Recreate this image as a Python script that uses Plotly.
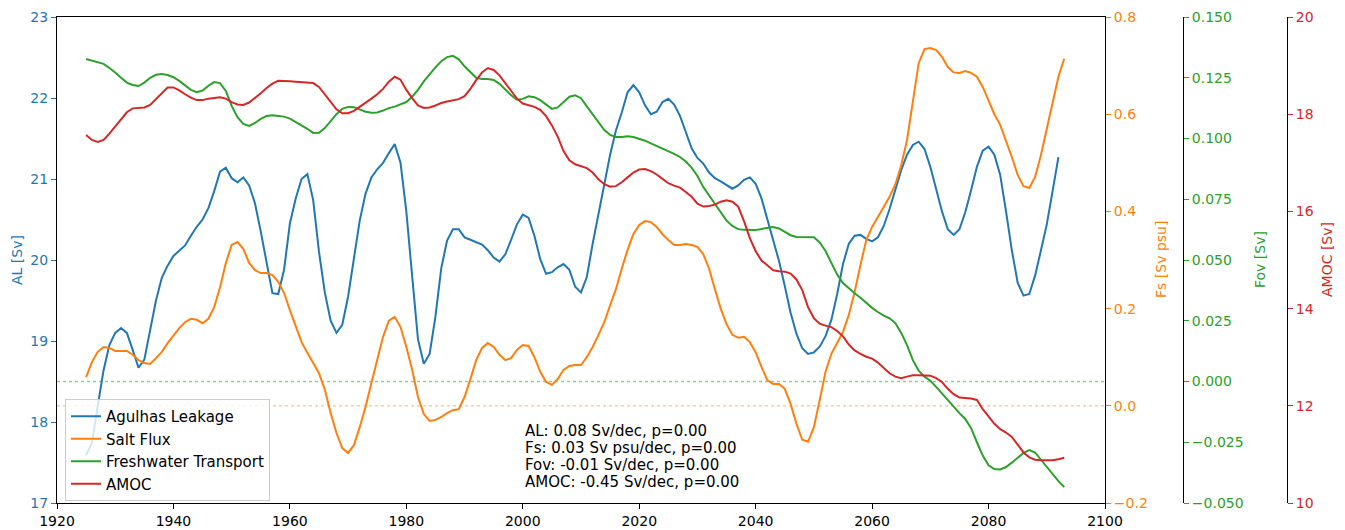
import plotly.graph_objects as go

# Annual series (smoothed), 1925 onwards
al_values = [
    17.59, 17.74, 18.2, 18.64, 18.95, 19.10, 19.16, 19.10, 18.89, 18.67,
    18.77, 19.14, 19.5, 19.78, 19.93, 20.05, 20.12, 20.18, 20.3, 20.41,
    20.5, 20.64, 20.85, 21.09, 21.14, 21.01, 20.96, 21.02, 20.92, 20.7,
    20.35, 19.95, 19.59, 19.58, 19.88, 20.45, 20.76, 21.0, 21.06, 20.74,
    20.1, 19.6, 19.25, 19.1, 19.2, 19.55, 20.0, 20.49, 20.82, 21.02,
    21.12, 21.2, 21.32, 21.43, 21.2, 20.6, 19.8, 19.02, 18.72, 18.84,
    19.3, 19.9, 20.24, 20.38, 20.38, 20.28, 20.25, 20.22, 20.19, 20.12,
    20.03, 19.98, 20.07, 20.25, 20.44, 20.56, 20.52, 20.3, 20.01, 19.83,
    19.85, 19.91, 19.95, 19.88, 19.67, 19.6, 19.79, 20.2, 20.58, 20.95,
    21.3, 21.6, 21.82, 22.07, 22.16, 22.07, 21.91, 21.8, 21.83, 21.95,
    21.99, 21.92, 21.78, 21.58, 21.38, 21.26, 21.19, 21.08, 21.01, 20.97,
    20.93, 20.88, 20.92, 20.99, 21.02, 20.94, 20.76, 20.5, 20.25, 19.99,
    19.68, 19.35, 19.09, 18.91, 18.84, 18.86, 18.93, 19.06, 19.26, 19.58,
    19.95, 20.2, 20.3, 20.31, 20.26, 20.23, 20.28, 20.42, 20.63, 20.87,
    21.11, 21.3, 21.42, 21.46, 21.37, 21.15, 20.86, 20.6, 20.38, 20.31,
    20.38, 20.59, 20.86, 21.15, 21.35, 21.4, 21.3, 21.05, 20.6, 20.12,
    19.72, 19.56, 19.58, 19.81, 20.12, 20.44, 20.85, 21.27,
]

fs_values = [
    0.059, 0.09, 0.111, 0.121, 0.119, 0.113, 0.113, 0.113, 0.105, 0.094,
    0.088, 0.086, 0.098, 0.111, 0.129, 0.144, 0.16, 0.172, 0.179, 0.177,
    0.17, 0.179, 0.203, 0.244, 0.294, 0.331, 0.337, 0.323, 0.294, 0.279,
    0.273, 0.273, 0.269, 0.255, 0.232, 0.197, 0.162, 0.131, 0.109, 0.088,
    0.067, 0.033, -0.015, -0.056, -0.087, -0.097, -0.081, -0.044, -0.002, 0.047,
    0.094, 0.142, 0.175, 0.183, 0.162, 0.121, 0.074, 0.018, -0.017, -0.031,
    -0.029, -0.023, -0.015, -0.009, -0.007, 0.018, 0.055, 0.094, 0.119, 0.129,
    0.121, 0.105, 0.094, 0.098, 0.115, 0.125, 0.123, 0.1, 0.07, 0.049,
    0.043, 0.055, 0.074, 0.082, 0.084, 0.084, 0.1, 0.121, 0.146, 0.172,
    0.207, 0.24, 0.282, 0.321, 0.353, 0.372, 0.38, 0.378, 0.368, 0.353,
    0.341, 0.331, 0.331, 0.333, 0.331, 0.327, 0.312, 0.282, 0.24, 0.2,
    0.168, 0.146, 0.14, 0.142, 0.131, 0.11, 0.08, 0.053, 0.045, 0.045,
    0.035, 0.004, -0.037, -0.07, -0.074, -0.044, 0.012, 0.07, 0.107, 0.131,
    0.152, 0.187, 0.234, 0.29, 0.341, 0.368, 0.388, 0.409, 0.43, 0.456,
    0.495, 0.547, 0.625, 0.705, 0.734, 0.736, 0.732, 0.718, 0.697, 0.686,
    0.685, 0.689, 0.685, 0.677, 0.656, 0.628, 0.6, 0.578, 0.547, 0.512,
    0.475, 0.452, 0.448, 0.471, 0.516, 0.57, 0.627, 0.677, 0.714,
]

fov_values = [
    0.1327, 0.1320, 0.1314, 0.1307, 0.1290, 0.1272, 0.1250, 0.1230, 0.1220, 0.1216,
    0.1230, 0.1250, 0.1262, 0.1265, 0.1261, 0.1252, 0.1237, 0.1218, 0.1200, 0.1191,
    0.1197, 0.1217, 0.1232, 0.1228, 0.1196, 0.1134, 0.1088, 0.1060, 0.1052, 0.1064,
    0.1081, 0.1093, 0.1096, 0.1093, 0.1090, 0.1082, 0.1069, 0.1055, 0.1040, 0.1023,
    0.1024, 0.1043, 0.1070, 0.1100, 0.1122, 0.1130, 0.1129, 0.1120, 0.1110, 0.1106,
    0.1107, 0.1115, 0.1125, 0.1131, 0.1140, 0.1150, 0.1172, 0.1200, 0.1235, 0.1265,
    0.1293, 0.1318, 0.1335, 0.1340, 0.1326, 0.1297, 0.1272, 0.1250, 0.1245, 0.1245,
    0.1241, 0.1225, 0.1202, 0.1178, 0.1160, 0.1163, 0.1174, 0.1170, 0.1158, 0.1138,
    0.1122, 0.1128, 0.1150, 0.1172, 0.1178, 0.1166, 0.1132, 0.1100, 0.1065, 0.1035,
    0.1015, 0.1006, 0.1006, 0.1009, 0.1006, 0.0999, 0.0991, 0.0980, 0.0970, 0.0958,
    0.0948, 0.0937, 0.0924, 0.0905, 0.0880, 0.0846, 0.0800, 0.0765, 0.0730, 0.0693,
    0.0662, 0.0640, 0.0627, 0.0624, 0.0623, 0.0623, 0.0628, 0.0632, 0.0636, 0.0630,
    0.0617, 0.0602, 0.0595, 0.0595, 0.0597, 0.0594, 0.0572, 0.0537, 0.0488, 0.0440,
    0.0405, 0.0382, 0.0363, 0.0345, 0.0322, 0.0303, 0.0286, 0.0271, 0.0260, 0.0240,
    0.0200, 0.0150, 0.0088, 0.0045, 0.0020, 0.0003, -0.0022, -0.0050, -0.0078, -0.0105,
    -0.0130, -0.0154, -0.0192, -0.0250, -0.0305, -0.0345, -0.0360, -0.0362, -0.0352, -0.0334,
    -0.0315, -0.0294, -0.0282, -0.0292, -0.0322, -0.0352, -0.0383, -0.0410, -0.0434,
]

amoc_values = [
    17.57, 17.47, 17.43, 17.47, 17.6, 17.74, 17.88, 18.04, 18.12, 18.13,
    18.14, 18.19, 18.31, 18.45, 18.55, 18.55, 18.49, 18.41, 18.34, 18.29,
    18.29, 18.32, 18.34, 18.35, 18.32, 18.25, 18.2, 18.19, 18.24, 18.33,
    18.43, 18.54, 18.63, 18.69, 18.69, 18.68, 18.67, 18.66, 18.66, 18.64,
    18.56, 18.41, 18.25, 18.1, 18.02, 18.02, 18.07, 18.15, 18.24, 18.32,
    18.41, 18.52, 18.67, 18.77, 18.71, 18.5, 18.33, 18.18, 18.13, 18.14,
    18.18, 18.23, 18.26, 18.28, 18.31, 18.37, 18.52, 18.7, 18.86, 18.95,
    18.91, 18.8, 18.64, 18.47, 18.32, 18.22, 18.18, 18.15, 18.09, 17.96,
    17.77, 17.54, 17.24, 17.05, 16.97, 16.93, 16.89, 16.8, 16.66, 16.56,
    16.51, 16.52, 16.6, 16.7, 16.8, 16.86, 16.87, 16.83, 16.76, 16.67,
    16.58, 16.53, 16.49, 16.4, 16.3, 16.16, 16.1, 16.11, 16.14, 16.2,
    16.23, 16.2, 16.1, 15.8, 15.45, 15.18, 14.99, 14.89, 14.79, 14.77,
    14.76, 14.72, 14.6, 14.38, 14.03, 13.8, 13.69, 13.65, 13.62, 13.54,
    13.43, 13.26, 13.14, 13.07, 13.01, 12.97, 12.89, 12.78, 12.67, 12.6,
    12.57, 12.6, 12.63, 12.63, 12.63, 12.62, 12.57, 12.49, 12.35, 12.24,
    12.17, 12.16, 12.15, 12.12, 11.93, 11.78, 11.63, 11.52, 11.45, 11.36,
    11.2, 11.04, 10.94, 10.89, 10.88, 10.88, 10.88, 10.9, 10.93,
]

start_year = 1925
al_years = list(range(start_year, start_year + len(al_values)))
fs_years = list(range(start_year, start_year + len(fs_values)))
fov_years = list(range(start_year, start_year + len(fov_values)))
amoc_years = list(range(start_year, start_year + len(amoc_values)))

trend_lines = [
    "AL: 0.08 Sv/dec, p=0.00",
    "Fs: 0.03 Sv psu/dec, p=0.00",
    "Fov: -0.01 Sv/dec, p=0.00",
    "AMOC: -0.45 Sv/dec, p=0.00",
]

C_AL = "#1f77b4"
C_FS = "#ff7f0e"
C_FOV = "#2ca02c"
C_AMOC = "#d62728"
FONT = "DejaVu Sans"
W, H = 1345, 530
L_PX, R_PX, T_PX, B_PX = 57, 1105, 17, 503
PLOT_H = B_PX - T_PX

fig = go.Figure()
fig.add_trace(go.Scatter(x=al_years, y=al_values, name="Agulhas Leakage", mode="lines",
                         line=dict(color=C_AL, width=2), yaxis="y"))
fig.add_trace(go.Scatter(x=fs_years, y=fs_values, name="Salt Flux", mode="lines",
                         line=dict(color=C_FS, width=2), yaxis="y2"))
fig.add_trace(go.Scatter(x=fov_years, y=fov_values, name="Freshwater Transport", mode="lines",
                         line=dict(color=C_FOV, width=2), yaxis="y3"))
fig.add_trace(go.Scatter(x=amoc_years, y=amoc_values, name="AMOC", mode="lines",
                         line=dict(color=C_AMOC, width=2), yaxis="y4"))

# zero reference lines for the two flux axes
fig.add_shape(type="line", xref="x domain", x0=0, x1=1, yref="y3", y0=0, y1=0,
              line=dict(color="#8fd08f", width=1.3, dash="dot"), layer="below")
fig.add_shape(type="line", xref="x domain", x0=0, x1=1, yref="y2", y0=0, y1=0,
              line=dict(color="#ffbf87", width=1.3, dash="dot"), layer="below")

tick_common = dict(ticks="outside", ticklen=5, tickwidth=1, showgrid=False, zeroline=False,
                   showline=True, linecolor="black", linewidth=1, automargin=False)

fig.update_layout(
    width=W, height=H,
    margin=dict(l=0, r=0, t=T_PX, b=H - B_PX, autoexpand=False),
    paper_bgcolor="white", plot_bgcolor="white",
    font=dict(family=FONT, size=14, color="black"),
    showlegend=True,
    legend=dict(x=65 / W, y=(B_PX - 399) / PLOT_H, xanchor="left", yanchor="top",
                bgcolor="rgba(255,255,255,0.8)", bordercolor="#cccccc", borderwidth=1,
                font=dict(family=FONT, size=15, color="black")),
    xaxis=dict(domain=[L_PX / W, R_PX / W], range=[1920, 2100], dtick=20, mirror=True,
               tickcolor="black", tickfont=dict(color="black", size=14), **tick_common),
    yaxis=dict(range=[17, 23], dtick=1, side="left", tickcolor=C_AL,
               tickfont=dict(color=C_AL, size=14), **tick_common),
    yaxis2=dict(range=[-0.2, 0.8], dtick=0.2, tickformat=".1f", overlaying="y", side="right",
                anchor="x", tickcolor=C_FS, tickfont=dict(color=C_FS, size=14), **tick_common),
    yaxis3=dict(range=[-0.05, 0.15], dtick=0.025, tickformat=".3f", overlaying="y", side="right",
                anchor="free", position=1183 / W, tickcolor=C_FOV,
                tickfont=dict(color=C_FOV, size=14), **tick_common),
    yaxis4=dict(range=[10, 20], dtick=2, overlaying="y", side="right",
                anchor="free", position=1287 / W, tickcolor=C_AMOC,
                tickfont=dict(color=C_AMOC, size=14), **tick_common),
)

# axis titles
for label, px, color in [("AL [Sv]", 17, C_AL), ("Fs [Sv psu]", 1161, C_FS),
                         ("Fov [Sv]", 1260, C_FOV), ("AMOC [Sv]", 1327, C_AMOC)]:
    fig.add_annotation(text=label, xref="paper", yref="paper", x=px / W, y=0.5,
                       textangle=-90, showarrow=False, xanchor="center", yanchor="middle",
                       font=dict(family=FONT, size=14, color=color))

# trend summary, one line per annotation for tighter line pitch
first_line_px, line_pitch = 431, 17
for i, line in enumerate(trend_lines):
    ypx = first_line_px + i * line_pitch
    fig.add_annotation(text=line, xref="x", yref="paper", x=2000,
                       y=(B_PX - ypx) / PLOT_H, xanchor="left", yanchor="middle",
                       align="left", showarrow=False,
                       font=dict(family=FONT, size=15, color="black"))

fig.write_html("out.html")
